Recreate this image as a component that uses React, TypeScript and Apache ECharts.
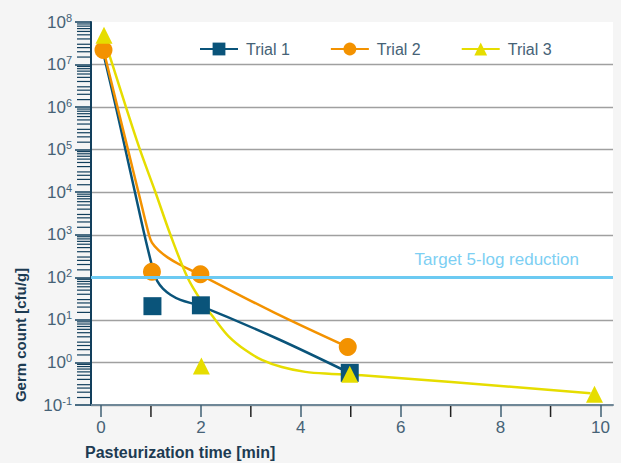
import React, { useEffect, useRef } from "react";
import * as echarts from "echarts";

// ---------- data (germ counts in cfu/g, time in min) ----------
const SERIES_NAMES = ["Trial 1", "Trial 2", "Trial 3"];

// measured points (markers)
const trial1X = [1.03, 2.0, 4.98];
const trial1Y = [21, 22, 0.57];
const trial2X = [0.05, 1.02, 1.99, 4.94];
const trial2Y = [2.2e7, 135, 118, 2.3];
const trial3X = [0.06, 2.01, 4.98, 9.88];
const trial3Y = [4.9e7, 0.83, 0.53, 0.18];

// fitted curves
const curve1X = [0.04, 0.3, 0.49, 0.68, 0.87, 1.06, 1.13, 1.24, 1.39, 1.59, 2.0, 3.51, 4.97];
const curve1Y = [2.0e7, 1.0e6, 1.0e5, 1.0e4, 1.0e3, 126, 80, 54, 39, 29.5, 21, 3.7, 0.57];
const curve2X = [0.05, 0.33, 0.54, 0.75, 0.96, 1.02, 1.15, 1.34, 1.59, 1.92, 3.46, 4.94];
const curve2Y = [2.2e7, 1.0e6, 1.0e5, 1.0e4, 1.0e3, 655, 436, 291, 195, 126, 15, 2.3];
const curve3X = [0.06, 0.23, 0.5, 0.78, 1.09, 1.39, 1.73, 1.99, 2.29, 2.56, 2.89, 3.22, 3.62, 4.09, 4.56, 5.22, 9.8];
const curve3Y = [4.0e7, 1.0e7, 1.0e6, 1.0e5, 1.0e4, 1.0e3, 100, 30, 10, 4.05, 1.95, 1.15, 0.78, 0.6, 0.54, 0.5, 0.19];

const TARGET = 100; // 5-log reduction
const TARGET_LABEL = "Target 5-log reduction";

const X_TICK_LABELS = [0, 2, 4, 6, 8, 10];
const X_MINOR_TICKS = [1, 3, 5, 7, 9];
const Y_EXP_MIN = -1;
const Y_EXP_MAX = 8;
const Y_MINOR_K = [1.5, 2, 2.5, 3, 4, 5, 6, 7, 8, 9];

// ---------- styles ----------
const FONT = '"Liberation Sans", Arial, sans-serif';
const NAVY = "#0a547a";
const ORANGE = "#f39200";
const YELLOW = "#e6dd00";
const TARGET_BLUE = "#6ccaf2";
const LABEL = "#466276";
const TITLE = "#1d3b52";
const AXIS_NAVY = "#123f5c";
const X_MIN = -0.2;
const X_MAX = 10.25;

const lg = (v: number) => Math.log10(v);
const pairs = (xs: number[], ys: number[]) => xs.map((x, i) => [x, lg(ys[i])]);

export default function App() {
  const ref = useRef<HTMLDivElement>(null);

  useEffect(() => {
    if (!ref.current) return;
    const chart = echarts.init(ref.current, undefined, { renderer: "svg" });

    const colors = [NAVY, ORANGE, YELLOW];
    const symbols = ["rect", "circle", "triangle"];
    const symbolSizes = [18, 18, 17];
    const curves = [pairs(curve1X, curve1Y), pairs(curve2X, curve2Y), pairs(curve3X, curve3Y)];
    const markers = [pairs(trial1X, trial1Y), pairs(trial2X, trial2Y), pairs(trial3X, trial3Y)];

    const yMinor: number[][] = [];
    for (let n = Y_EXP_MIN; n < Y_EXP_MAX; n++) {
      Y_MINOR_K.forEach((k) => yMinor.push([X_MIN, n + Math.log10(k)]));
    }
    const xMinor = X_MINOR_TICKS.map((x) => [x, Y_EXP_MIN]);

    const lineSeries = SERIES_NAMES.map((name, i) => ({
      name,
      type: "line",
      data: curves[i],
      smooth: 0.35,
      symbol: symbols[i],
      symbolSize: symbolSizes[i],
      showSymbol: false,
      lineStyle: { color: colors[i], width: 2.5 },
      itemStyle: { color: colors[i] },
      z: 3,
      silent: true,
    }));
    const markerSeries = SERIES_NAMES.map((name, i) => ({
      name,
      type: "scatter",
      data: markers[i],
      symbol: symbols[i],
      symbolSize: symbolSizes[i],
      itemStyle: { color: colors[i], opacity: 1 },
      z: 4,
      silent: true,
    }));

    chart.setOption({
      animation: false,
      backgroundColor: "#f5f5f5",
      textStyle: { fontFamily: FONT },
      grid: {
        left: 91,
        right: 8,
        top: 22,
        bottom: 58,
        show: true,
        backgroundColor: "#ffffff",
        borderWidth: 0,
      },
      legend: {
        data: SERIES_NAMES,
        left: 194,
        top: 36,
        itemWidth: 38,
        itemHeight: 16,
        itemGap: 40,
        textStyle: { color: LABEL, fontSize: 16, fontFamily: FONT, padding: [0, 0, 0, 3] },
        selectedMode: false,
      },
      xAxis: {
        type: "value",
        min: X_MIN,
        max: X_MAX,
        splitLine: { show: false },
        axisLine: { show: true, onZero: false, lineStyle: { color: "#6f8797", width: 2 } },
        axisTick: {
          show: true,
          customValues: X_TICK_LABELS,
          length: 12,
          lineStyle: { color: "#3f5f73", width: 1.5 },
        },
        axisLabel: {
          customValues: X_TICK_LABELS,
          color: LABEL,
          fontSize: 17,
          fontFamily: FONT,
          margin: 14,
        },
      },
      yAxis: {
        type: "value",
        min: Y_EXP_MIN,
        max: Y_EXP_MAX,
        interval: 1,
        axisLine: { show: true, onZero: false, lineStyle: { color: AXIS_NAVY, width: 2 } },
        axisTick: { show: true, length: 16, lineStyle: { color: AXIS_NAVY, width: 1.5 } },
        splitLine: {
          show: true,
          showMaxLine: false,
          lineStyle: { color: "#a0a0a0", width: 1.3 },
        },
        axisLabel: {
          margin: 19,
          formatter: (v: number) => `{b|10}{s|${v}}`,
          rich: {
            b: { fontSize: 17, color: LABEL, fontFamily: FONT, lineHeight: 20 },
            s: { fontSize: 11, color: LABEL, fontFamily: FONT, lineHeight: 12, verticalAlign: "top" },
          },
        },
      },
      graphic: [
        {
          type: "text",
          x: 85,
          y: 452,
          style: {
            text: "Pasteurization time [min]",
            fill: TITLE,
            font: `bold 16px ${FONT}`,
            align: "left",
            verticalAlign: "middle",
          },
        },
        {
          type: "text",
          x: 20,
          y: 335,
          rotation: Math.PI / 2,
          style: {
            text: "Germ count [cfu/g]",
            fill: TITLE,
            font: `bold 15px ${FONT}`,
            align: "center",
            verticalAlign: "middle",
          },
        },
      ],
      series: [
        {
          name: "yMinorTicks",
          type: "custom",
          data: yMinor,
          silent: true,
          clip: false,
          z: 1,
          renderItem: (params: any, api: any) => {
            const p = api.coord([api.value(0), api.value(1)]);
            return {
              type: "line",
              shape: { x1: p[0] - 14, y1: p[1], x2: p[0] - 1, y2: p[1] },
              style: { stroke: AXIS_NAVY, lineWidth: 1.2 },
            };
          },
        },
        {
          name: "xMinorTicks",
          type: "custom",
          data: xMinor,
          silent: true,
          clip: false,
          z: 1,
          renderItem: (params: any, api: any) => {
            const p = api.coord([api.value(0), api.value(1)]);
            return {
              type: "line",
              shape: { x1: p[0], y1: p[1] + 1, x2: p[0], y2: p[1] + 12 },
              style: { stroke: "#222222", lineWidth: 1.5 },
            };
          },
        },
        {
          name: "target",
          type: "line",
          data: [],
          silent: true,
          z: 2,
          markLine: {
            silent: true,
            symbol: ["none", "none"],
            lineStyle: { color: TARGET_BLUE, width: 3, type: "solid" },
            label: {
              show: true,
              position: "insideEndTop",
              formatter: TARGET_LABEL,
              color: "#7dcff3",
              fontSize: 17,
              fontFamily: FONT,
              distance: [34, 9],
            },
            data: [{ yAxis: lg(TARGET) }],
          },
        },
        ...lineSeries,
        ...markerSeries,
      ],
    });

    return () => chart.dispose();
  }, []);

  return (
    <div
      ref={ref}
      style={{ position: "fixed", left: 0, top: 0, width: 621, height: 463, background: "#f5f5f5" }}
    />
  );
}
